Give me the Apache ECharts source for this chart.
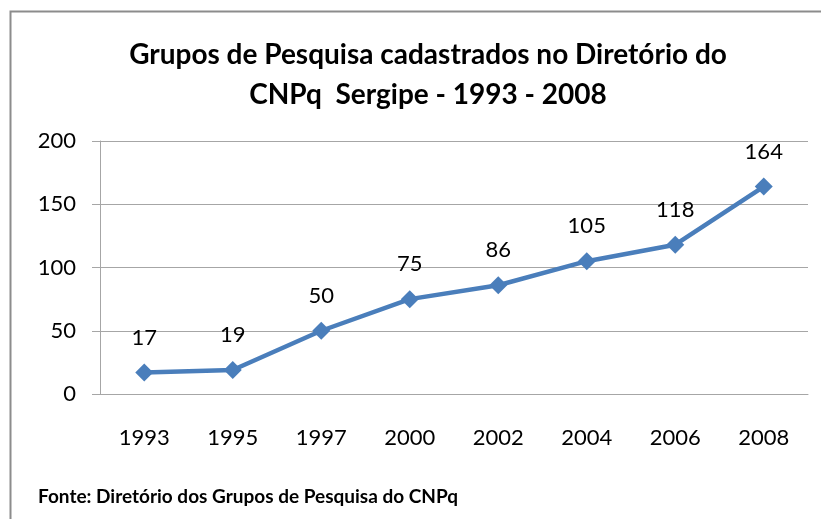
<!DOCTYPE html>
<html><head><meta charset="utf-8">
<script src="https://cdn.jsdelivr.net/npm/echarts@6/dist/echarts.min.js"></script>
<style>html,body{margin:0;padding:0;background:#fff}#c{width:821px;height:519px}</style>
</head><body><div id="c"></div>
<script>
const titleLines = ['Grupos de Pesquisa cadastrados no Diretório do', 'CNPq  Sergipe - 1993 - 2008'];
const sourceNote = 'Fonte: Diretório dos Grupos de Pesquisa do CNPq';
const years = ['1993', '1995', '1997', '2000', '2002', '2004', '2006', '2008'];
const groups = [17, 19, 50, 75, 86, 105, 118, 164];
const yTicks = { min: 0, max: 200, interval: 50 };

const FONT = 'Lato, "Open Sans", sans-serif';
const chart = echarts.init(document.getElementById('c'), null, { renderer: 'canvas' });
chart.setOption({
  backgroundColor: '#fff',
  animation: false,
  title: {
    text: titleLines.join('\n'),
    left: 423, top: 30, textAlign: 'center',
    textStyle: { fontFamily: FONT, fontWeight: 'bold', fontSize: 28, color: '#000', lineHeight: 40 }
  },
  graphic: [
    { type: 'rect', shape: { x: 10.5, y: 11.5, width: 900, height: 600 }, style: { fill: 'none', stroke: '#8c8c8c', lineWidth: 2 } },
    { type: 'text', left: 38, top: 487, style: { text: sourceNote, fontFamily: FONT, fontWeight: 'bold', fontSize: 19, fill: '#000' } }
  ],
  grid: { left: 100, right: 13, top: 141, bottom: 125 },
  xAxis: {
    type: 'category', data: years, boundaryGap: true,
    axisLine: { show: true, lineStyle: { color: '#a6a6a6', width: 1 } },
    axisTick: { show: false },
    axisLabel: { margin: 33, fontFamily: FONT, fontSize: 22, color: '#000' }
  },
  yAxis: {
    type: 'value', min: yTicks.min, max: yTicks.max, interval: yTicks.interval,
    axisLine: { show: true, lineStyle: { color: '#a6a6a6', width: 1 } },
    axisTick: { show: true, length: 8, lineStyle: { color: '#a6a6a6' } },
    splitLine: { show: true, lineStyle: { color: '#a6a6a6', width: 1 } },
    axisLabel: { margin: 24, fontFamily: FONT, fontSize: 22, color: '#000' }
  },
  series: [{
    type: 'line', data: groups,
    symbol: 'diamond', symbolSize: 18,
    lineStyle: { color: '#4A7EBB', width: 4.5 },
    itemStyle: { color: '#4A7EBB' },
    label: { show: true, position: 'top', distance: 15, fontFamily: FONT, fontSize: 22, color: '#000' }
  }]
});
</script></body></html>
